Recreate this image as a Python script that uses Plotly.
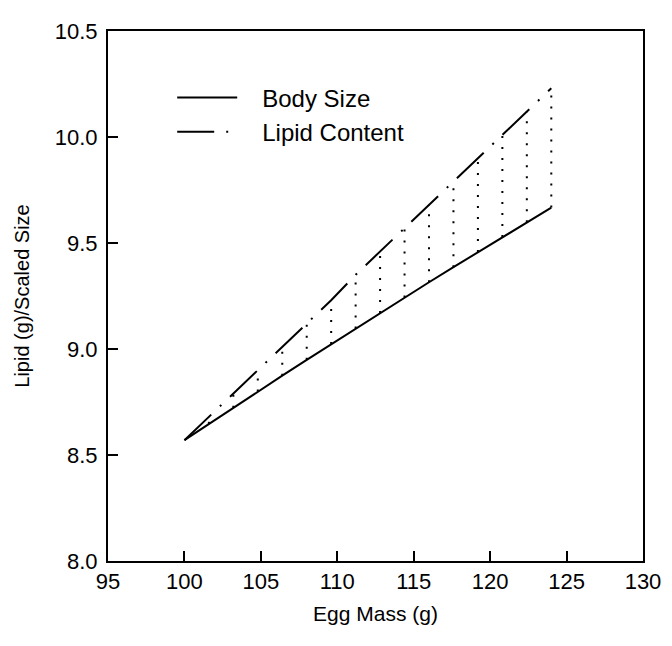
import plotly.graph_objects as go

egg_mass = [100.0, 101.6, 103.2, 104.8, 106.4, 108.0, 109.6, 111.2, 112.8,
            114.4, 116.0, 117.6, 119.2, 120.8, 122.4, 124.0]
body_size = [8.570, 8.647, 8.723, 8.799, 8.874, 8.949, 9.023, 9.097, 9.170,
             9.243, 9.315, 9.386, 9.457, 9.528, 9.598, 9.667]
lipid_content = [8.57, 8.68, 8.79, 8.90, 9.01, 9.12, 9.23, 9.35, 9.46,
                 9.57, 9.68, 9.79, 9.90, 10.01, 10.12, 10.23]
series_names = ["Body Size", "Lipid Content"]

x_ticks = [95, 100, 105, 110, 115, 120, 125, 130]
y_ticks = [8.0, 8.5, 9.0, 9.5, 10.0, 10.5]

# vertical dotted drop lines between the two curves at each data point
drop_x, drop_y = [], []
for xv, b, l in zip(egg_mass, body_size, lipid_content):
    drop_x += [xv, xv, None]
    drop_y += [b, l, None]

pad = "\u00a0\u00a0\u00a0"  # gap between legend sample and text

fig = go.Figure()
fig.add_trace(go.Scatter(x=drop_x, y=drop_y, mode="lines", showlegend=False,
                         line=dict(color="black", width=2, dash="2px,9px"),
                         hoverinfo="skip"))
fig.add_trace(go.Scatter(x=egg_mass, y=body_size, mode="lines", name=pad + series_names[0],
                         line=dict(color="black", width=2)))
fig.add_trace(go.Scatter(x=egg_mass, y=lipid_content, mode="lines", name=pad + series_names[1],
                         line=dict(color="black", width=2, dash="37px,12px,2px,12px")))

font = "Liberation Sans, Arial, sans-serif"
# the page body adds an 8px offset, so the figure is 8px smaller than the window
fig.update_layout(
    width=664, height=638,
    margin=dict(l=100, r=20, t=11, b=85),
    paper_bgcolor="white", plot_bgcolor="white",
    font=dict(family=font, color="black", size=22),
    legend=dict(x=0.12, y=0.916, xanchor="left", yanchor="top",
                font=dict(size=24, family=font), bgcolor="rgba(0,0,0,0)",
                traceorder="normal", itemwidth=60),
    showlegend=True,
)
fig.update_xaxes(range=[95, 130], tickvals=x_ticks, ticks="inside", ticklen=10,
                 tickwidth=1.5, tickcolor="black", showline=True, linecolor="black",
                 linewidth=2, mirror=True, showgrid=False, zeroline=False,
                 title=dict(text="Egg Mass (g)", font=dict(size=21), standoff=13))
fig.update_yaxes(range=[8.0, 10.5], tickvals=y_ticks, tickformat=".1f", ticks="inside",
                 ticklen=10, tickwidth=1.5, tickcolor="black", showline=True,
                 linecolor="black", linewidth=2, mirror=True, showgrid=False,
                 zeroline=False, ticklabelstandoff=4,
                 title=dict(text="Lipid (g)/Scaled Size", font=dict(size=20), standoff=20))

fig.write_html("out.html")
